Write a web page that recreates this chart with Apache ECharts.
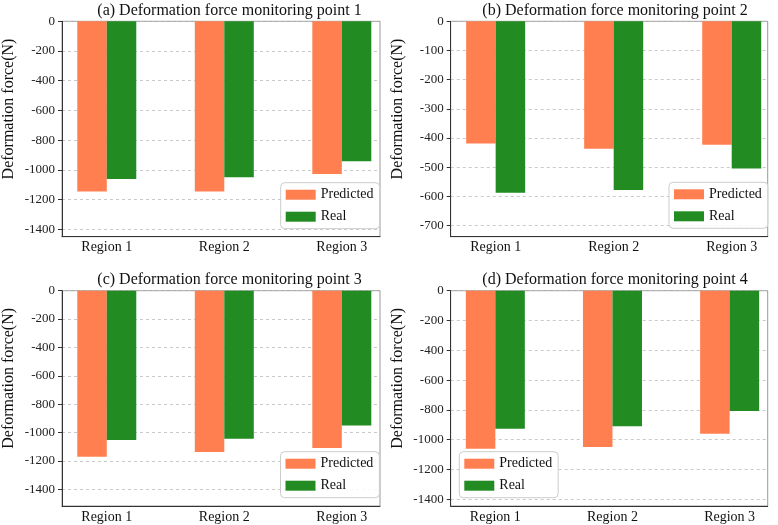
<!DOCTYPE html>
<html>
<head>
<meta charset="utf-8">
<script src="https://cdn.jsdelivr.net/npm/echarts@6/dist/echarts.min.js"></script>
<style>html,body{margin:0;padding:0;background:#fff}#c{width:778px;height:525px}</style>
</head>
<body>
<div id="c"></div>
<script>
// ---- data ----
var categories = ['Region 1', 'Region 2', 'Region 3'];
var titles = [
  '(a) Deformation force monitoring point 1',
  '(b) Deformation force monitoring point 2',
  '(c) Deformation force monitoring point 3',
  '(d) Deformation force monitoring point 4'
];
var pred1 = [-1146, -1146, -1028];
var real1 = [-1061, -1050, -942];
var pred2 = [-419, -437, -423];
var real2 = [-587, -578, -504];
var pred3 = [-1170, -1137, -1109];
var real3 = [-1052, -1043, -951];
var pred4 = [-1060, -1049, -960];
var real4 = [-926, -910, -807];
var yMins = [-1450, -738, -1518, -1445];
var yAxisName = 'Deformation force(N)';
var seriesNames = ['Predicted', 'Real'];

var preds = [pred1, pred2, pred3, pred4];
var reals = [real1, real2, real3, real4];

// ---- layout ----
var FONT = 'Liberation Serif';
var grids = [
  {left: 60.7, top: 21.3, width: 319.3, height: 215.4},
  {left: 450.7, top: 21.3, width: 317, height: 215.4},
  {left: 60.7, top: 290.7, width: 319.3, height: 215.3},
  {left: 450.7, top: 290.7, width: 317, height: 215.3}
];
var xMaxs = [2.325, 2.305, 2.325, 2.325];
var titlePos = [[224.5, -2], [610, -2], [224.5, 267], [610, 267]];
var legendPos = [[280.7, 182.7], [669, 182.3], [280.5, 451.7], [459.3, 451.7]];
var colors = ['#FF7F50', '#228B22'];

function toXY(arr) { return arr.map(function (v, i) { return [i, v]; }); }

var option = {
  animation: false,
  backgroundColor: '#fff',
  textStyle: {fontFamily: FONT},
  title: [], grid: [], xAxis: [], yAxis: [], legend: [], series: []
};

for (var k = 0; k < 4; k++) {
  option.title.push({
    text: titles[k], left: titlePos[k][0], top: titlePos[k][1], textAlign: 'center',
    textStyle: {fontFamily: FONT, fontSize: 16, fontWeight: 'normal', color: '#111'}
  });
  var g = grids[k];
  option.grid.push({
    left: g.left, top: g.top, width: g.width, height: g.height,
    show: true, borderColor: '#999', borderWidth: 1, backgroundColor: 'transparent'
  });
  option.xAxis.push({
    type: 'value', gridIndex: k, min: -0.381, max: xMaxs[k],
    axisLine: {onZero: false, lineStyle: {color: '#333', width: 1}},
    axisTick: {show: false},
    splitLine: {show: false},
    axisLabel: {
      customValues: [0, 1, 2],
      formatter: function (v) { return categories[Math.round(v)]; },
      fontFamily: FONT, fontSize: 14, color: '#111', margin: 4
    }
  });
  option.yAxis.push({
    type: 'value', gridIndex: k, min: yMins[k], max: 0, splitNumber: 7,
    name: yAxisName, nameLocation: 'middle', nameGap: 45,
    nameTextStyle: {fontFamily: FONT, fontSize: 16, color: '#111', padding: [0, 0, 0, 40]},
    axisLine: {show: true, onZero: false, lineStyle: {color: '#333', width: 1}},
    axisTick: {show: true, length: 4, lineStyle: {color: '#333'}},
    splitLine: {show: true, lineStyle: {color: '#bbb', width: 0.8, type: [3, 3]}},
    axisLabel: {
      showMinLabel: false, fontFamily: FONT, fontSize: 13, color: '#222', margin: 7,
      formatter: function (v) { return String(v); }
    }
  });
  option.legend.push({
    orient: 'vertical', left: legendPos[k][0], top: legendPos[k][1],
    data: seriesNames, icon: 'rect', itemWidth: 30, itemHeight: 10, itemGap: 6,
    padding: [4, 6, 4, 5], borderColor: '#ccc', borderWidth: 1, borderRadius: 4,
    backgroundColor: 'rgba(255,255,255,0.85)',
    textStyle: {fontFamily: FONT, fontSize: 14, color: '#111', lineHeight: 16}
  });
  option.series.push({
    name: seriesNames[0], type: 'bar', xAxisIndex: k, yAxisIndex: k,
    data: toXY(preds[k]), barWidth: 29.5, barGap: '0%',
    itemStyle: {color: colors[0]}
  });
  option.series.push({
    name: seriesNames[1], type: 'bar', xAxisIndex: k, yAxisIndex: k,
    data: toXY(reals[k]), barWidth: 29.5, barGap: '0%',
    itemStyle: {color: colors[1]}
  });
}

var chart = echarts.init(document.getElementById('c'), null, {renderer: 'canvas'});
chart.setOption(option);
</script>
</body>
</html>
